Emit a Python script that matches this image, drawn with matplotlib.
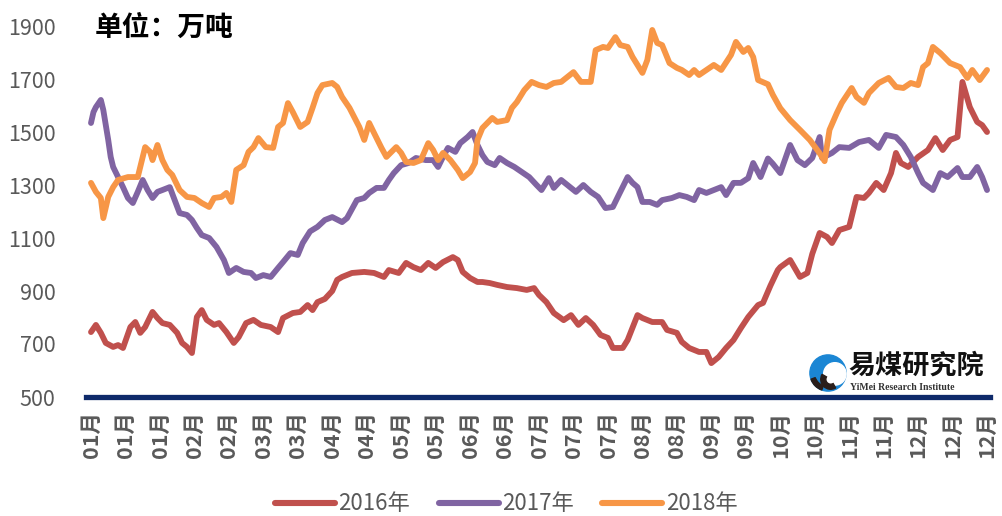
import matplotlib
matplotlib.use("Agg")
import matplotlib.pyplot as plt
from matplotlib.patches import Circle, Wedge
from matplotlib.lines import Line2D

plt.rcParams['font.family'] = ['Noto Sans CJK SC', 'DejaVu Sans']

# ---------------- data (day of year, value in 万吨) ----------------
days_2016 = [1, 3, 5, 7, 10, 12, 14, 17, 19, 21, 23, 26, 28, 30, 33, 36, 38, 40, 42, 44,
             46, 48, 51, 53, 56, 59, 61, 64, 67, 70, 74, 77, 79, 83, 86, 89, 91, 93, 96, 99,
             101, 103, 107, 112, 116, 120, 122, 126, 129, 132, 135, 138, 141, 144, 148, 150,
             152, 155, 158, 160, 163, 166, 170, 174, 178, 181, 183, 186, 189, 193, 196, 199,
             202, 205, 208, 211, 213, 217, 219, 223, 225, 229, 233, 235, 239, 241, 244, 248,
             251, 253, 256, 259, 262, 265, 268, 272, 274, 277, 280, 281, 285, 289, 292, 294,
             297, 300, 302, 305, 309, 312, 315, 317, 320, 323, 326, 328, 330, 333, 337, 341,
             344, 347, 350, 353, 355, 358, 361, 363, 365]
vals_2016 = [745, 772, 742, 704, 689, 696, 685, 764, 783, 742, 764, 821, 798, 779, 772, 742,
             704, 689, 666, 802, 828, 791, 772, 779, 745, 704, 726, 779, 791, 772, 764, 745,
             798, 817, 821, 847, 828, 858, 870, 900, 942, 953, 968, 972, 968, 953, 979, 968,
             1006, 990, 979, 1006, 987, 1009, 1028, 1017, 972, 949, 934, 934, 930, 923, 915,
             911, 904, 911, 885, 858, 817, 790, 809, 772, 798, 772, 734, 723, 685, 685, 715,
             809, 798, 783, 783, 753, 742, 708, 685, 670, 670, 628, 651, 685, 715, 760, 802,
             847, 855, 920, 979, 990, 1017, 953, 968, 1040, 1119, 1104, 1081, 1130, 1142,
             1255, 1251, 1270, 1308, 1281, 1345, 1421, 1383, 1368, 1406, 1432, 1477, 1432,
             1470, 1481, 1689, 1594, 1538, 1526, 1500]

days_2017 = [1, 2, 3, 5, 6, 8, 9, 10, 12, 14, 16, 18, 20, 22, 24, 26, 28, 30, 33, 35, 37,
             40, 42, 44, 46, 49, 52, 55, 57, 60, 63, 66, 68, 71, 74, 77, 79, 82, 85, 87, 90,
             93, 96, 99, 103, 105, 109, 112, 114, 117, 120, 122, 124, 127, 130, 133, 137,
             140, 142, 144, 146, 149, 151, 154, 156, 158, 160, 162, 165, 167, 170, 173, 176,
             179, 182, 184, 187, 189, 192, 196, 198, 201, 204, 207, 210, 213, 215, 219, 221,
             223, 225, 228, 231, 233, 237, 240, 243, 246, 248, 251, 254, 257, 259, 262, 265,
             268, 270, 273, 276, 278, 281, 285, 288, 291, 294, 297, 298, 302, 305, 309, 313,
             317, 321, 324, 328, 331, 334, 337, 339, 343, 346, 349, 353, 355, 358, 361, 363,
             365]
vals_2017 = [1534, 1575, 1594, 1621, 1583, 1470, 1406, 1368, 1330, 1292, 1251, 1232, 1274,
             1319, 1281, 1251, 1274, 1281, 1292, 1243, 1194, 1187, 1168, 1138, 1111, 1100,
             1066, 1017, 968, 987, 972, 968, 949, 960, 953, 987, 1009, 1043, 1036, 1081,
             1125, 1142, 1168, 1179, 1160, 1175, 1243, 1251, 1270, 1289, 1289, 1319, 1345,
             1375, 1383, 1402, 1394, 1394, 1368, 1406, 1440, 1425, 1458, 1481, 1500, 1451,
             1413, 1387, 1375, 1402, 1383, 1368, 1349, 1330, 1300, 1281, 1326, 1289, 1319,
             1289, 1274, 1300, 1274, 1255, 1213, 1217, 1255, 1330, 1308, 1292, 1236, 1236,
             1225, 1243, 1251, 1262, 1255, 1243, 1281, 1270, 1281, 1292, 1262, 1308, 1308,
             1326, 1383, 1330, 1400, 1380, 1345, 1451, 1394, 1375, 1402, 1481, 1402, 1421,
             1443, 1440, 1462, 1470, 1440, 1489, 1481, 1451, 1406, 1345, 1308, 1281, 1345,
             1330, 1364, 1330, 1330, 1368, 1330, 1281]

days_2018 = [1, 3, 5, 6, 8, 10, 12, 16, 20, 22, 23, 25, 26, 28, 30, 32, 34, 37, 40, 43, 46,
             49, 51, 54, 56, 58, 60, 63, 65, 67, 69, 72, 75, 77, 79, 81, 83, 86, 89, 91, 93,
             95, 99, 101, 103, 106, 110, 112, 114, 116, 119, 121, 125, 127, 129, 132, 135,
             138, 140, 142, 144, 147, 150, 152, 155, 157, 158, 160, 164, 166, 170, 172, 174,
             177, 180, 183, 186, 189, 192, 194, 197, 200, 204, 206, 209, 211, 214, 216, 219,
             221, 223, 225, 227, 229, 231, 233, 236, 239, 241, 244, 246, 248, 251, 254, 257,
             261, 263, 266, 268, 270, 272, 276, 278, 281, 285, 289, 293, 297, 299, 301, 304,
             306, 310, 312, 315, 317, 321, 325, 328, 331, 334, 337, 339, 341, 343, 346, 350,
             354, 357, 359, 362, 365]
vals_2018 = [1308, 1274, 1251, 1175, 1255, 1292, 1319, 1330, 1330, 1406, 1443, 1425, 1394,
             1451, 1394, 1357, 1338, 1281, 1255, 1251, 1232, 1217, 1251, 1255, 1270, 1236,
             1357, 1375, 1425, 1443, 1477, 1443, 1440, 1519, 1534, 1609, 1575, 1519, 1538,
             1591, 1647, 1677, 1685, 1670, 1632, 1591, 1519, 1470, 1534, 1496, 1440, 1406,
             1443, 1421, 1387, 1383, 1394, 1458, 1432, 1394, 1421, 1394, 1357, 1326, 1349,
             1383, 1470, 1515, 1553, 1538, 1545, 1591, 1613, 1658, 1689, 1677, 1670, 1685,
             1689, 1704, 1726, 1689, 1689, 1809, 1821, 1817, 1858, 1828, 1821, 1783, 1753,
             1723, 1772, 1885, 1836, 1828, 1760, 1742, 1734, 1715, 1734, 1715, 1734, 1753,
             1734, 1791, 1840, 1802, 1817, 1783, 1696, 1680, 1640, 1590, 1545, 1508, 1470,
             1420, 1390, 1508, 1572, 1610, 1666, 1632, 1610, 1647, 1685, 1704, 1670, 1666,
             1685, 1677, 1745, 1760, 1821, 1798, 1760, 1745, 1704, 1734, 1696, 1734]

series_names = ['2016年', '2017年', '2018年']
series_colors = ['#C0504D', '#8064A2', '#F79646']

tick_days = [1, 15, 29, 43, 57, 71, 85, 99, 113, 127, 141, 155, 169, 183, 197, 211,
             225, 239, 253, 267, 281, 295, 309, 323, 337, 351, 365]
tick_labels = ['01月', '01月', '01月', '02月', '02月', '03月', '03月', '04月', '04月',
               '05月', '05月', '06月', '06月', '07月', '07月', '07月', '08月', '08月',
               '09月', '09月', '10月', '10月', '11月', '11月', '12月', '12月', '12月']
y_ticks = [500, 700, 900, 1100, 1300, 1500, 1700, 1900]

# ---------------- figure ----------------
W, H = 1002, 516
fig = plt.figure(figsize=(W / 100, H / 100), dpi=100)
ax = fig.add_axes([86 / W, 1 - 397 / H, (990 - 86) / W, (397 - 26) / H])

all_days = [days_2016, days_2017, days_2018]
all_vals = [vals_2016, vals_2017, vals_2018]
for d, v, c, n in zip(all_days, all_vals, series_colors, series_names):
    ax.plot(d, v, color=c, lw=4.2, solid_joinstyle='round', solid_capstyle='round',
            label=n, zorder=3)

ax.set_xlim(-1.03, 366.2)
ax.set_ylim(500, 1900)

for s in ['top', 'right', 'left']:
    ax.spines[s].set_visible(False)
ax.spines['bottom'].set_color('#0E2A6A')
ax.spines['bottom'].set_linewidth(3.8)
ax.spines['bottom'].set_zorder(4)

ax.set_yticks(y_ticks)
ax.set_yticklabels([str(t) for t in y_ticks])
ax.set_xticks(tick_days)
ax.set_xticklabels(tick_labels, rotation=90)
ax.tick_params(axis='y', length=0, pad=22, labelsize=15.5, labelcolor='#595959')
ax.tick_params(axis='x', length=0, pad=10, labelsize=15.5, labelcolor='#595959')
for lab in ax.get_xticklabels():
    lab.set_fontweight('bold')

# title
fig.text(95 / W, 1 - 28 / H, '单位：万吨', fontsize=20, fontweight='bold',
         color='black', ha='left', va='center')

# legend
handles = [Line2D([0], [0], color=c, lw=4.4, solid_capstyle='round') for c in series_colors]
leg = fig.legend(handles, series_names, loc='center', bbox_to_anchor=(506 / W, 1 - 504 / H),
                 ncol=3, frameon=False, fontsize=16, handlelength=2.7, handletextpad=0.15,
                 columnspacing=1.3, labelcolor='#595959')

# logo
lax = fig.add_axes([809 / W, 1 - 392 / H, 38 / W, 38 / H])
lax.set_xlim(-1.05, 1.05)
lax.set_ylim(-1.05, 1.05)
lax.set_aspect('equal')
lax.axis('off')
lax.add_patch(Circle((0, 0), 1.0, color='#1B86D4'))
lax.add_patch(Circle((0.38, -0.05), 0.62, color='white'))
lax.add_patch(Wedge((0.15, -0.35), 0.55, 150, 300, width=0.28, color='#2A1E1A'))
lax.add_patch(Wedge((0.0, 0.0), 1.0, 200, 250, width=0.25, color='#2A1E1A'))

fig.text(848 / W, 1 - 366 / H, '易煤研究院', fontsize=19.5, fontweight='bold',
         color='#111111', ha='left', va='center')
fig.text(850 / W, 1 - 387 / H, 'YiMei Research Institute', fontsize=7,
         family='Liberation Serif', fontweight='bold', color='#333333',
         ha='left', va='center')

fig.savefig('out.png', dpi=100)
